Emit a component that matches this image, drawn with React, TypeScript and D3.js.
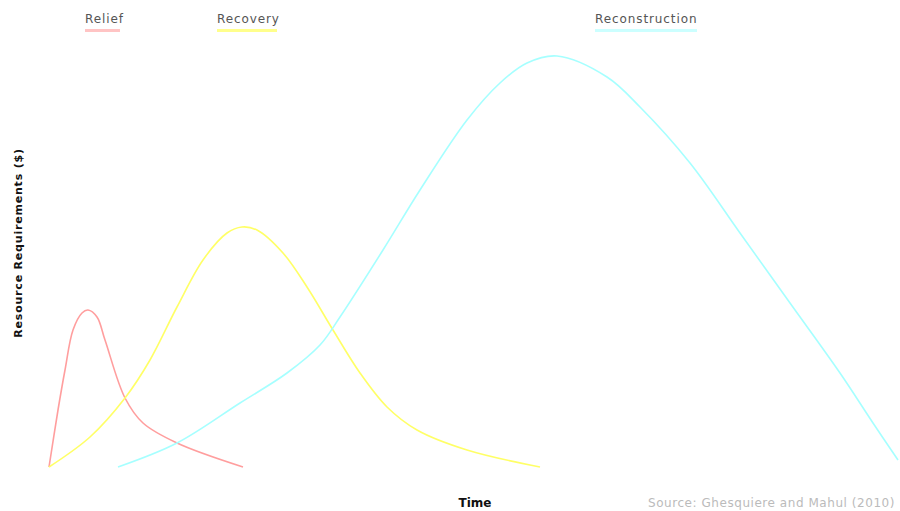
import React, { useRef, useEffect } from "react";
import * as d3 from "d3";

// time units along x, resource units along y
const reliefTime = [0, 1.8, 3.2, 4.8, 6.6, 7.8, 9.6, 11.2, 15.2, 18.8, 25.6, 38.8];
const reliefValue = [0, 11.4, 19.4, 27.4, 30.8, 31.4, 30, 25.4, 13.8, 8.8, 4.8, 0];

const recoveryTime = [0, 8.2, 15.2, 20.2, 25.6, 30.8, 35.6, 38.6, 41.6, 46.8, 51.6, 56.8, 62.2, 67.6, 73.6, 83.6, 98.2];
const recoveryValue = [0, 6, 13.8, 21.4, 32, 41.4, 46.8, 48, 47.4, 42.8, 36, 27.4, 18.8, 12, 7.4, 3.4, 0];

const reconstructionTime = [13.8, 25.6, 38.2, 47.6, 54.2, 58.2, 66.8, 74.2, 83.6, 90.2, 95.6, 101.6, 111.6, 118.2, 128.2, 138.2, 148.2, 158.2, 164.8, 169.8];
const reconstructionValue = [0, 4.8, 12.8, 18.8, 24.4, 30, 43.4, 55.4, 69.4, 76.8, 80.8, 82.2, 78, 72, 60.8, 46.8, 32.8, 18.8, 8.8, 1.4];

const seriesNames = ["Relief", "Recovery", "Reconstruction"];
const seriesColors = ["#ff9e9e", "#ffff66", "#a6ffff"];
const legendColors = ["#ffc4c4", "#ffff8c", "#ccffff"];
const legendX = [85, 217, 595];
const legendW = [35, 60, 102];

export default function App() {
  const svgRef = useRef<SVGSVGElement>(null);

  useEffect(() => {
    const w = 900;
    const h = 511;
    const svg = d3.select(svgRef.current).attr("width", w).attr("height", h);
    svg.selectAll("*").remove();

    const xScale = d3.scaleLinear().domain([0, 170]).range([49, 899]);
    const yScale = d3.scaleLinear().domain([0, 82]).range([467, 57]);

    const series = [
      reliefTime.map((t, i) => [t, reliefValue[i]]),
      recoveryTime.map((t, i) => [t, recoveryValue[i]]),
      reconstructionTime.map((t, i) => [t, reconstructionValue[i]]),
    ];

    const line = d3
      .line<number[]>()
      .x((d) => xScale(d[0]))
      .y((d) => yScale(d[1]))
      .curve(d3.curveCatmullRom.alpha(0.5));

    svg
      .selectAll(".series")
      .data(series)
      .join("path")
      .attr("class", "series")
      .attr("d", (d) => line(d))
      .attr("fill", "none")
      .attr("stroke", (d, i) => seriesColors[i])
      .attr("stroke-width", 1.6);

    //legend
    const legend = svg
      .selectAll(".legend")
      .data(seriesNames)
      .join("g")
      .attr("class", "legend")
      .attr("transform", (d, i) => `translate(${legendX[i]}, 0)`);
    legend
      .append("text")
      .attr("x", 0)
      .attr("y", 23)
      .attr("font-family", "DejaVu Sans, sans-serif")
      .attr("font-size", 12)
      .attr("letter-spacing", 0.9)
      .attr("fill", "#555")
      .text((d) => d);
    legend
      .append("rect")
      .attr("x", 0)
      .attr("y", 29)
      .attr("width", (d, i) => legendW[i])
      .attr("height", 3)
      .attr("fill", (d, i) => legendColors[i]);

    //axis titles
    svg
      .append("text")
      .attr("transform", "translate(22, 243) rotate(-90)")
      .attr("text-anchor", "middle")
      .attr("font-family", "DejaVu Sans, sans-serif")
      .attr("font-weight", "bold")
      .attr("font-size", 11)
      .attr("letter-spacing", 0.8)
      .attr("fill", "#111")
      .text("Resource Requirements ($)");

    svg
      .append("text")
      .attr("x", 475)
      .attr("y", 507)
      .attr("text-anchor", "middle")
      .attr("font-family", "DejaVu Sans, sans-serif")
      .attr("font-weight", "bold")
      .attr("font-size", 12)
      .attr("fill", "#111")
      .text("Time");

    svg
      .append("text")
      .attr("x", 648)
      .attr("y", 507)
      .attr("font-family", "DejaVu Sans, sans-serif")
      .attr("font-size", 12)
      .attr("letter-spacing", 0.55)
      .attr("fill", "#bbb")
      .text("Source: Ghesquiere and Mahul (2010)");
  }, []);

  return (
    <svg
      ref={svgRef}
      style={{ position: "absolute", left: 0, top: 0, background: "#fff" }}
    ></svg>
  );
}
